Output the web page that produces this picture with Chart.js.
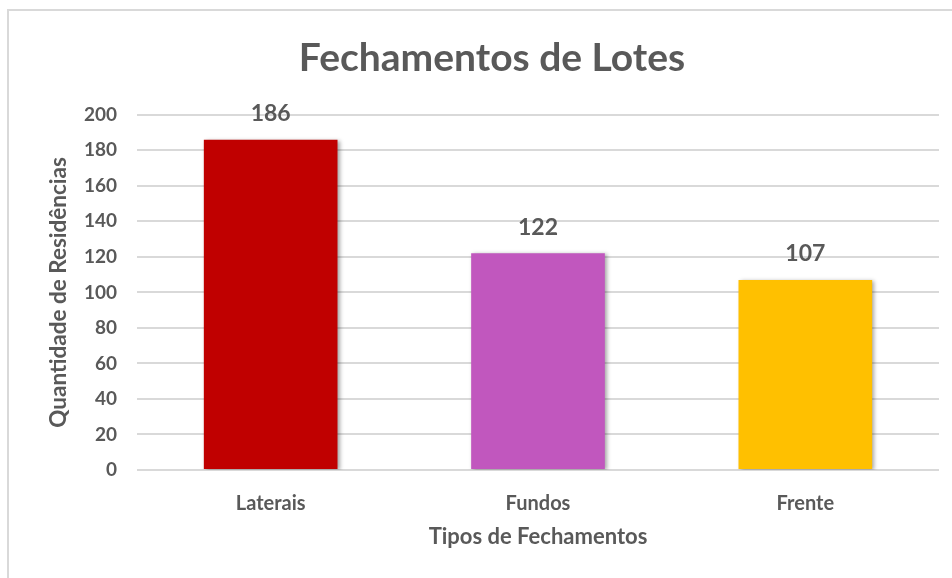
<!DOCTYPE html>
<html>
<head>
<meta charset="utf-8">
<script src="https://cdn.jsdelivr.net/npm/chart.js@4/dist/chart.umd.min.js"></script>
<style>
  html, body { margin: 0; padding: 0; background: #fff; }
  #wrap { position: relative; width: 952px; height: 578px; overflow: hidden; }
  #frame { position: absolute; left: 7px; top: 9px; width: 980px; height: 600px; border: 2px solid #d9d9d9; box-sizing: border-box; }
  canvas { position: absolute; left: 0; top: 0; }
</style>
</head>
<body>
<div id="wrap">
  <div id="frame"></div>
  <canvas id="chart" width="952" height="578"></canvas>
</div>
<script>
const categories = ["Laterais", "Fundos", "Frente"];
const values = [186, 122, 107];
const barColors = ["#C00000", "#C157BE", "#FFC000"];
const yTicks = [0, 20, 40, 60, 80, 100, 120, 140, 160, 180, 200];

const textColor = '#595959';
const fontFamily = 'Lato, "Open Sans", sans-serif';

// draws the value above each bar, and a soft shadow behind the bars
const barExtras = {
    id: 'barExtras',
    beforeDatasetsDraw(chart) {
        const ctx = chart.ctx;
        ctx.save();
        ctx.shadowColor = 'rgba(0,0,0,0.35)';
        ctx.shadowBlur = 4;
        ctx.shadowOffsetX = 2;
        ctx.shadowOffsetY = 1;
    },
    afterDatasetsDraw(chart) {
        const ctx = chart.ctx;
        ctx.restore();
        ctx.save();
        ctx.font = 'bold 23px ' + fontFamily;
        ctx.fillStyle = textColor;
        ctx.textAlign = 'center';
        ctx.textBaseline = 'middle';
        chart.getDatasetMeta(0).data.forEach((bar, i) => {
            ctx.fillText(values[i], bar.x, bar.y - 26);
        });
        ctx.restore();
    }
};

new Chart(document.getElementById('chart'), {
    type: 'bar',
    data: {
        labels: categories,
        datasets: [{
            data: values,
            backgroundColor: barColors,
            barPercentage: 0.5,
            categoryPercentage: 1
        }]
    },
    options: {
        responsive: false,
        animation: false,
        layout: { padding: { left: 45, right: 13, top: 0, bottom: 28 } },
        plugins: {
            legend: { display: false },
            tooltip: { enabled: false },
            title: {
                display: true,
                text: 'Fechamentos de Lotes',
                color: textColor,
                font: { family: fontFamily, size: 39, weight: 'bold' },
                padding: { top: 35, bottom: 33 }
            }
        },
        scales: {
            x: {
                grid: { display: false, drawTicks: false },
                border: { display: false },
                ticks: {
                    color: textColor,
                    padding: 22,
                    font: { family: fontFamily, size: 20, weight: 'bold' }
                },
                title: {
                    display: true,
                    text: 'Tipos de Fechamentos',
                    color: textColor,
                    padding: { top: 0, bottom: 0 },
                    font: { family: fontFamily, size: 22, weight: 'bold' }
                },
                afterFit: s => { s.height = 80; }
            },
            y: {
                min: 0,
                max: 200,
                afterBuildTicks: s => { s.ticks = yTicks.map(v => ({ value: v })); },
                grid: { color: '#d9d9d9', lineWidth: 2, drawTicks: false },
                border: { display: false },
                ticks: {
                    color: textColor,
                    padding: 20,
                    font: { family: fontFamily, size: 19, weight: 'bold' }
                },
                title: {
                    display: true,
                    text: 'Quantidade de Residências',
                    color: textColor,
                    padding: { top: 0, bottom: 0 },
                    font: { family: fontFamily, size: 22.5, weight: 'bold' }
                },
                afterFit: s => { s.width = 92; }
            }
        }
    },
    plugins: [barExtras]
});
</script>
</body>
</html>
